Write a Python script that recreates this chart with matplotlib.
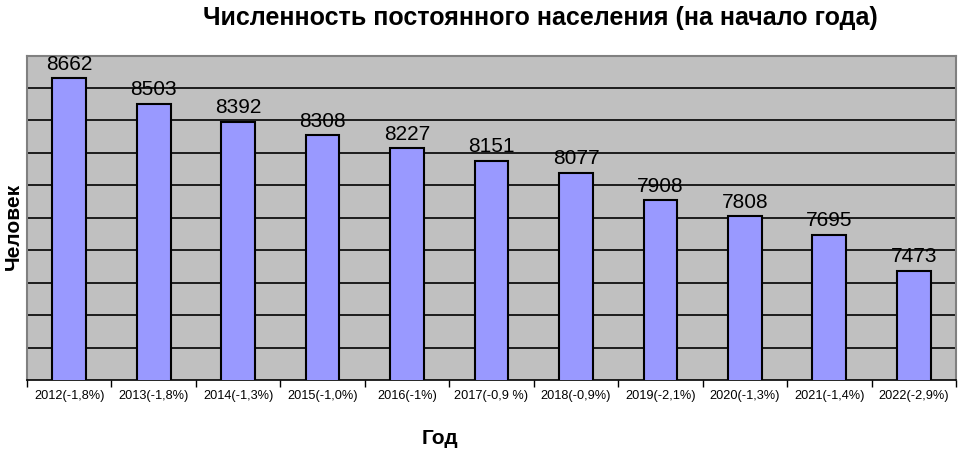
import matplotlib.pyplot as plt
import numpy as np

plt.rcParams['font.family'] = ['Liberation Sans', 'DejaVu Sans']

# data
years = ['2012(-1,8%)', '2013(-1,8%)', '2014(-1,3%)', '2015(-1,0%)', '2016(-1%)',
         '2017(-0,9 %)', '2018(-0,9%)', '2019(-2,1%)', '2020(-1,3%)', '2021(-1,4%)',
         '2022(-2,9%)']
population = [8662, 8503, 8392, 8308, 8227, 8151, 8077, 7908, 7808, 7695, 7473]

fig = plt.figure(figsize=(9.63, 4.55), dpi=100)
ax = fig.add_axes([27 / 963, 1 - 380 / 455, (956 - 27) / 963, (380 - 55.5) / 455])
ax.set_facecolor('#C0C0C0')

x = np.arange(len(years))
bars = ax.bar(x, population, width=0.4, color='#9999FF', edgecolor='black',
              linewidth=1.5, zorder=3)
ax.set_ylim(6800, 8800)
ax.set_xlim(-0.5, len(years) - 0.5)

# horizontal gridlines every 200
ax.set_yticks(np.arange(7000, 8801, 200))
ax.yaxis.grid(True, color='black', linewidth=1.2, zorder=1)
ax.tick_params(axis='y', left=False, labelleft=False)

ax.set_xticks(x)
ax.set_xticklabels(years, fontsize=9.2)
ax.tick_params(axis='x', length=0, pad=7)
ax.set_xticks(np.arange(-0.5, len(years)), minor=True)
ax.tick_params(axis='x', which='minor', length=5, width=1, color='black', direction='out')

for s in ['top', 'right', 'left']:
    ax.spines[s].set_color('#808080')
    ax.spines[s].set_linewidth(1.5)
ax.spines['bottom'].set_color('black')
ax.spines['bottom'].set_linewidth(1.2)

for b, v in zip(bars, population):
    ax.annotate(str(v), (b.get_x() + b.get_width() / 2, v), xytext=(0, 6),
                textcoords='offset points', ha='center', va='baseline', fontsize=15,
                zorder=4, annotation_clip=False)

fig.text(540 / 963, 1 - 18 / 455, 'Численность постоянного населения (на начало года)',
         ha='center', va='center', fontsize=18, fontweight='bold')
fig.text(13 / 963, 1 - 226 / 455, 'Человек', rotation=90, ha='center', va='center',
         fontsize=15, fontweight='bold')
fig.text(440 / 963, 1 - 438 / 455, 'Год', ha='center', va='center', fontsize=15,
         fontweight='bold')

fig.savefig('out.png', dpi=100)
